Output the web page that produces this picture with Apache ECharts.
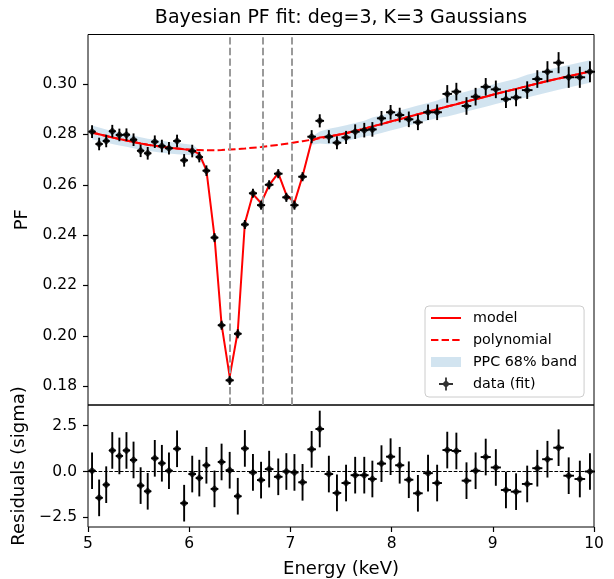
<!DOCTYPE html>
<html>
<head>
<meta charset="utf-8">
<script src="https://cdn.jsdelivr.net/npm/echarts@6/dist/echarts.min.js"></script>
<style>
  html, body { margin: 0; padding: 0; background: #fff; }
  #chart { width: 614px; height: 579px; }
</style>
</head>
<body>
<div id="chart"></div>
<script>
// energies of the bins (keV)
var energy = [5.04, 5.11, 5.18, 5.24, 5.31, 5.38, 5.45, 5.52, 5.59, 5.66,
              5.73, 5.80, 5.88, 5.95, 6.03, 6.10, 6.17, 6.25, 6.32, 6.40,
              6.48, 6.55, 6.63, 6.71, 6.79, 6.88, 6.96, 7.04, 7.12, 7.21,
              7.29, 7.38, 7.46, 7.55, 7.64, 7.73, 7.81, 7.90, 7.99, 8.08,
              8.17, 8.26, 8.36, 8.45, 8.55, 8.64, 8.74, 8.83, 8.93, 9.03,
              9.13, 9.23, 9.34, 9.44, 9.54, 9.65, 9.75, 9.86, 9.96];
// measured pulsed fraction
var pf = [0.2811, 0.2762, 0.2774, 0.2813, 0.2798, 0.2799, 0.2779, 0.2735, 0.2725, 0.2771,
          0.2754, 0.2745, 0.2774, 0.2697, 0.2734, 0.2710, 0.2656, 0.2390, 0.2042, 0.1823,
          0.2008, 0.2442, 0.2566, 0.2519, 0.2600, 0.2644, 0.2550, 0.2519, 0.2632, 0.2791,
          0.2854, 0.2791, 0.2767, 0.2788, 0.2811, 0.2817, 0.2820, 0.2864, 0.2888, 0.2877,
          0.2860, 0.2848, 0.2888, 0.2888, 0.2961, 0.2970, 0.2913, 0.2950, 0.2989, 0.2979,
          0.2940, 0.2947, 0.2976, 0.3020, 0.3049, 0.3085, 0.3027, 0.3027, 0.3049];
var pfErr = [0.0025, 0.0025, 0.0025, 0.0025, 0.0025, 0.0025, 0.0025, 0.0025, 0.0025, 0.0025,
             0.0025, 0.0025, 0.0025, 0.0025, 0.0025, 0.0021, 0.0021, 0.0018, 0.0018, 0.0018,
             0.0018, 0.0018, 0.0018, 0.0018, 0.0018, 0.0018, 0.0018, 0.0018, 0.0018, 0.0026,
             0.0026, 0.0026, 0.0026, 0.0026, 0.0029, 0.0029, 0.0029, 0.0029, 0.0029, 0.0029,
             0.0031, 0.0031, 0.0031, 0.0031, 0.0035, 0.0035, 0.0035, 0.0035, 0.0035, 0.0035,
             0.0035, 0.0035, 0.0035, 0.0035, 0.0042, 0.0042, 0.0042, 0.0042, 0.0042];
// cubic continuum
var poly = [0.2808, 0.2801, 0.2794, 0.2788, 0.2782, 0.2776, 0.2770, 0.2764, 0.2759, 0.2755,
            0.2751, 0.2747, 0.2744, 0.2741, 0.2739, 0.2738, 0.2737, 0.2737, 0.2738, 0.2740,
            0.2742, 0.2744, 0.2747, 0.2750, 0.2754, 0.2758, 0.2763, 0.2768, 0.2773, 0.2779,
            0.2785, 0.2791, 0.2798, 0.2805, 0.2814, 0.2823, 0.2832, 0.2841, 0.2851, 0.2860,
            0.2870, 0.2880, 0.2890, 0.2900, 0.2911, 0.2920, 0.2931, 0.2940, 0.2950, 0.2961,
            0.2971, 0.2981, 0.2992, 0.3002, 0.3012, 0.3022, 0.3031, 0.3041, 0.3050];
// full model (continuum with the three gaussian dips)
var model = [0.2808, 0.2801, 0.2794, 0.2788, 0.2782, 0.2776, 0.2770, 0.2764, 0.2759, 0.2755,
             0.2751, 0.2747, 0.2744, 0.2741, 0.2738, 0.2722, 0.2658, 0.2394, 0.2044, 0.1838,
             0.2017, 0.2447, 0.2563, 0.2527, 0.2599, 0.2646, 0.2560, 0.2529, 0.2635, 0.2775,
             0.2788, 0.2792, 0.2798, 0.2805, 0.2814, 0.2823, 0.2832, 0.2841, 0.2851, 0.2860,
             0.2870, 0.2880, 0.2890, 0.2900, 0.2911, 0.2920, 0.2931, 0.2940, 0.2950, 0.2961,
             0.2971, 0.2981, 0.2992, 0.3002, 0.3012, 0.3022, 0.3031, 0.3041, 0.3050];
// half width of the PPC 68% band around the model
var bandHalf = [0.0027, 0.0027, 0.0026, 0.0026, 0.0026, 0.0025, 0.0025, 0.0025, 0.0024, 0.0024,
                0.0024, 0.0023, 0.0023, 0.0022, 0.0021, 0.0017, 0.0012, 0.0008, 0.0008, 0.0008,
                0.0008, 0.0008, 0.0008, 0.0008, 0.0008, 0.0008, 0.0008, 0.0008, 0.0008, 0.0016,
                0.0024, 0.0031, 0.0031, 0.0031, 0.0031, 0.0031, 0.0035, 0.0035, 0.0035, 0.0035,
                0.0035, 0.0035, 0.0035, 0.0035, 0.0040, 0.0040, 0.0040, 0.0040, 0.0040, 0.0040,
                0.0040, 0.0040, 0.0045, 0.0045, 0.0045, 0.0045, 0.0045, 0.0045, 0.0045];
// normalised residuals
var resid = [0.04, -1.44, -0.72, 1.15, 0.85, 1.15, 0.63, -0.77, -1.08, 0.72,
             0.45, 0.04, 1.24, -1.73, -0.14, -0.36, 0.34, -0.95, 0.52, 0.07,
             -1.35, 1.26, -0.05, -0.47, 0.13, -0.29, 0.00, -0.05, -0.59, 1.21,
             2.32, -0.14, -1.17, -0.63, -0.20, -0.20, -0.41, 0.43, 0.81, 0.34,
             -0.45, -1.19, -0.09, -0.63, 1.17, 1.12, -0.50, 0.04, 0.79, 0.22,
             -1.01, -1.10, -0.68, 0.18, 0.67, 1.30, -0.23, -0.41, 0.00];
var lineCenters = [6.40, 6.73, 7.015];
var pfTicks = [0.18, 0.20, 0.22, 0.24, 0.26, 0.28, 0.30];
var residTicks = [-2.5, 0, 2.5];

var FONT = 'DejaVu Sans';

// half bin widths for the horizontal bars
var halfBin = energy.map(function (e, i) {
    var a = energy[Math.max(i - 1, 0)], b = energy[Math.min(i + 1, energy.length - 1)];
    var n = (i === 0 || i === energy.length - 1) ? 2 : 4;
    return (b - a) / n;
});

function errRender(params, api) {
    var x = api.value(0), y = api.value(1), dx = api.value(2), dy = api.value(3);
    var t = api.coord([x, y + dy]), b = api.coord([x, y - dy]);
    var l = api.coord([x - dx, y]), r = api.coord([x + dx, y]);
    var st = {stroke: '#000', lineWidth: 1.9};
    return {
        type: 'group',
        children: [
            {type: 'line', shape: {x1: t[0], y1: t[1], x2: b[0], y2: b[1]}, style: st},
            {type: 'line', shape: {x1: l[0], y1: l[1], x2: r[0], y2: r[1]}, style: st}
        ]
    };
}

function minus(s) { return s.replace('-', '\u2212'); }

var fill = 'M0,0h0.01v0.01h-0.01z M36.99,13.99h0.01v0.01h-0.01z ';
var tickStyle = {show: true, length: 5, lineStyle: {color: '#000', width: 1.2}};
var labelStyle = {color: '#000', fontSize: 15.5, fontFamily: FONT};

var myChart = echarts.init(document.getElementById('chart'));
var option = {
    animation: false,
    textStyle: {fontFamily: FONT},
    title: {
        text: 'Bayesian PF fit: deg=3, K=3 Gaussians',
        left: 341, top: 9, padding: 0,
        textAlign: 'center',
        textStyle: {fontSize: 19, fontWeight: 'normal', color: '#000', fontFamily: FONT}
    },
    legend: {
        orient: 'vertical',
        left: 425, top: 306,
        padding: [4, 7, 5, 6],
        itemWidth: 37, itemHeight: 14, itemGap: 6,
        backgroundColor: 'rgba(255,255,255,0.8)',
        borderColor: '#cccccc', borderWidth: 1, borderRadius: 4,
        selectedMode: false,
        itemStyle: {borderWidth: 0},
        textStyle: {fontSize: 14.3, color: '#000', fontFamily: FONT, lineHeight: 16, padding: [0, 0, 0, 0]},
        data: [
            {name: 'model', icon: 'path://' + fill + 'M0,6h30v2h-30z'},
            {name: 'polynomial', icon: 'path://' + fill + 'M0,6h7.4v2h-7.4z M10.6,6h7.4v2h-7.4z M21.2,6h7.4v2h-7.4z'},
            {name: 'PPC 68% band', icon: 'path://' + fill + 'M0,2h30v10h-30z'},
            {name: 'data (fit)', icon: 'path://' + fill + 'M14.1,0.5h1.8v13h-1.8z M8,6.1h14v1.8h-14z M15,3L19,7L15,11L11,7z'}
        ]
    },
    grid: [
        {left: 88, top: 34.5, width: 506, height: 370.5, show: true, borderColor: '#000', borderWidth: 1, backgroundColor: 'transparent'},
        {left: 88, top: 405, width: 506, height: 123, show: true, borderColor: '#000', borderWidth: 1, backgroundColor: 'transparent'}
    ],
    xAxis: [
        {gridIndex: 0, type: 'value', min: 5, max: 10, interval: 1,
         axisLine: {show: false, onZero: false}, axisTick: {show: false},
         axisLabel: {show: false}, splitLine: {show: false}},
        {gridIndex: 1, type: 'value', min: 5, max: 10, interval: 1,
         axisLine: {show: false, onZero: false}, axisTick: tickStyle,
         axisLabel: Object.assign({margin: 9}, labelStyle), splitLine: {show: false},
         name: 'Energy (keV)', nameLocation: 'middle', nameGap: 33,
         nameTextStyle: {fontSize: 18, color: '#000', fontFamily: FONT}}
    ],
    yAxis: [
        {gridIndex: 0, type: 'value', min: 0.1725, max: 0.3197,
         axisLine: {show: false, onZero: false},
         axisTick: Object.assign({customValues: pfTicks}, tickStyle),
         axisLabel: Object.assign({margin: 11, customValues: pfTicks, formatter: function (v) { return v.toFixed(2); }}, labelStyle),
         splitLine: {show: false},
         name: 'PF', nameLocation: 'middle', nameGap: 50,
         nameTextStyle: {fontSize: 18, color: '#000', fontFamily: FONT}},
        {gridIndex: 1, type: 'value', min: -3.03, max: 3.63,
         axisLine: {show: false, onZero: false},
         axisTick: Object.assign({customValues: residTicks}, tickStyle),
         axisLabel: Object.assign({margin: 11, customValues: residTicks, formatter: function (v) { return minus(v.toFixed(1)); }}, labelStyle),
         splitLine: {show: false},
         name: 'Residuals (sigma)', nameLocation: 'middle', nameGap: 53,
         nameTextStyle: {fontSize: 18, color: '#000', fontFamily: FONT}}
    ],
    series: [
        {
            name: 'PPC 68% band', type: 'custom', xAxisIndex: 0, yAxisIndex: 0,
            z: 1, silent: true,
            itemStyle: {color: 'rgba(31,119,180,0.2)'},
            data: [[energy[0], model[0]]],
            renderItem: function (params, api) {
                var pts = [], i;
                for (i = 0; i < energy.length; i++) pts.push(api.coord([energy[i], model[i] + bandHalf[i]]));
                for (i = energy.length - 1; i >= 0; i--) pts.push(api.coord([energy[i], model[i] - bandHalf[i]]));
                return {type: 'polygon', shape: {points: pts}, style: {fill: 'rgba(31,119,180,0.2)'}};
            }
        },
        {
            name: 'lines', type: 'line', xAxisIndex: 0, yAxisIndex: 0, z: 2, data: [],
            markLine: {
                silent: true, symbol: ['none', 'none'], label: {show: false},
                lineStyle: {color: '#9a9a9a', type: [7.4, 3.2], width: 2},
                data: lineCenters.map(function (c) { return {xAxis: c}; })
            }
        },
        {
            name: 'model', type: 'line', xAxisIndex: 0, yAxisIndex: 0, z: 3,
            color: '#ff0000', symbol: 'none',
            itemStyle: {color: '#ff0000'},
            lineStyle: {color: '#ff0000', width: 2},
            data: energy.map(function (e, i) { return [e, model[i]]; })
        },
        {
            name: 'polynomial', type: 'line', xAxisIndex: 0, yAxisIndex: 0, z: 4,
            color: '#ff0000', symbol: 'none',
            itemStyle: {color: '#ff0000'},
            lineStyle: {color: '#ff0000', width: 2, type: [7.4, 3.2]},
            data: energy.map(function (e, i) { return [e, poly[i]]; })
        },
        {
            name: 'errors', type: 'custom', xAxisIndex: 0, yAxisIndex: 0, z: 5, silent: true,
            encode: {x: 0, y: 1},
            data: energy.map(function (e, i) { return [e, pf[i], halfBin[i], pfErr[i]]; }),
            renderItem: errRender
        },
        {
            name: 'data (fit)', type: 'scatter', xAxisIndex: 0, yAxisIndex: 0, z: 6,
            symbol: 'diamond', symbolSize: 8,
            itemStyle: {color: '#000'},
            data: energy.map(function (e, i) { return [e, pf[i]]; })
        },
        {
            name: 'zero', type: 'line', xAxisIndex: 1, yAxisIndex: 1, z: 2, data: [],
            markLine: {
                silent: true, symbol: ['none', 'none'], label: {show: false},
                lineStyle: {color: '#000', type: [3.7, 1.6], width: 1.2},
                data: [{yAxis: 0}]
            }
        },
        {
            name: 'residual errors', type: 'custom', xAxisIndex: 1, yAxisIndex: 1, z: 5, silent: true,
            encode: {x: 0, y: 1},
            data: energy.map(function (e, i) { return [e, resid[i], halfBin[i], 1]; }),
            renderItem: errRender
        },
        {
            name: 'residuals', type: 'scatter', xAxisIndex: 1, yAxisIndex: 1, z: 6,
            symbol: 'diamond', symbolSize: 8,
            itemStyle: {color: '#000'},
            data: energy.map(function (e, i) { return [e, resid[i]]; })
        }
    ]
};
myChart.setOption(option);
</script>
</body>
</html>
